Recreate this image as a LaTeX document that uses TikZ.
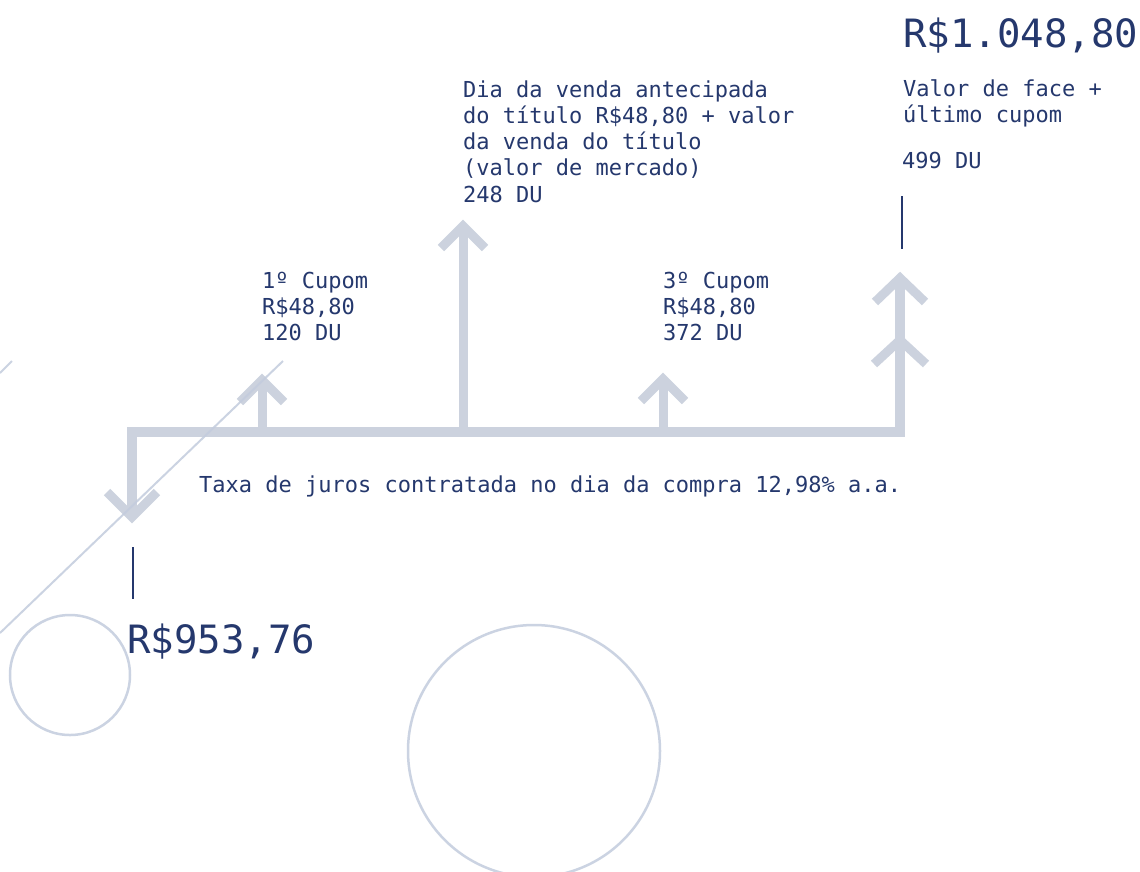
\documentclass[tikz,border=0pt]{standalone}
\usepackage{fontspec}
\setmainfont{DejaVu Sans Mono}
\definecolor{navy}{HTML}{25386D}
\definecolor{arr}{HTML}{CCD2DE}
\definecolor{deco}{HTML}{C3CCDD}
\begin{document}
\begin{tikzpicture}[x=1pt,y=-1pt,
  flow/.style={draw=arr, line width=10pt, line join=miter},
  stem/.style={draw=arr, line width=9pt},
  chev/.style={draw=arr, line width=9pt, line join=miter, miter limit=10},
  lbl/.style={text=navy, font=\fontsize{22}{26.3}\selectfont, anchor=base west, inner sep=0pt, align=left},
  big/.style={text=navy, font=\fontsize{39}{46}\selectfont, anchor=base west, inner sep=0pt},
  tick/.style={draw=navy, line width=2pt},
  decoline/.style={draw=deco, line width=2pt, opacity=0.85},
  ring/.style={draw=deco, line width=2.5pt, opacity=0.85}]
\useasboundingbox (0,0) rectangle (1140,871);
\fill[white] (0,0) rectangle (1140,871);

% decorative rings
\coordinate (ringA) at (70,675);
\coordinate (ringB) at (534,751);
\draw[ring] (ringA) circle (60pt);
\draw[ring] (ringB) circle (126pt);

% named points of the flow
\coordinate (startTip) at (132,517);
\coordinate (corner) at (132,432);
\coordinate (endBase) at (900,432);
\coordinate (endTip) at (900,278);
\coordinate (c1Base) at (262,432);
\coordinate (c1Tip) at (262,380);
\coordinate (c2Base) at (463,432);
\coordinate (c2Tip) at (463,226);
\coordinate (c3Base) at (663,432);
\coordinate (c3Tip) at (663,379);

% main timeline
\draw[flow] (startTip) -- (corner) -- (endBase) -- (endTip);
\draw[stem] (c1Base) -- (c1Tip);
\draw[stem] (c2Base) -- (c2Tip);
\draw[stem] (c3Base) -- (c3Tip);

% arrow heads (chevrons)
\draw[chev] ([shift={(-25,-25)}]startTip) -- (startTip) -- ([shift={(25,-25)}]startTip);
\draw[chev] ([shift={(-22,22)}]c1Tip) -- (c1Tip) -- ([shift={(22,22)}]c1Tip);
\draw[chev] ([shift={(-22,22)}]c2Tip) -- (c2Tip) -- ([shift={(22,22)}]c2Tip);
\draw[chev] ([shift={(-22,22)}]c3Tip) -- (c3Tip) -- ([shift={(22,22)}]c3Tip);
\draw[chev] ([shift={(-25,24)}]endTip) -- (endTip) -- ([shift={(25,24)}]endTip);
\coordinate (endTip2) at (900,340);
\draw[chev] ([shift={(-26,24)}]endTip2) -- (endTip2) -- ([shift={(26,24)}]endTip2);

% decorative diagonals
\coordinate (dA1) at (0,633);
\coordinate (dA2) at (283,361);
\coordinate (dB1) at (0,373);
\coordinate (dB2) at (12,361);
\draw[decoline] (dA1) -- (dA2);
\draw[decoline] (dB1) -- (dB2);

% dark ticks
\coordinate (t1a) at (133,547);
\coordinate (t1b) at (133,599);
\coordinate (t2a) at (902,196);
\coordinate (t2b) at (902,249);
\draw[tick] (t1a) -- (t1b);
\draw[tick] (t2a) -- (t2b);

% labels (base anchor = baseline of the last line)
\node[big] (finalValue) at (903,47) {R\$1.048,80};
\node[lbl] (faceText) at (903,122.3) {Valor de face +\\último cupom};
\node[lbl] (faceDU) at (902,168) {499 DU};
\node[lbl] (saleText) at (463,202.2) {Dia da venda antecipada\\do título R\$48,80 + valor\\da venda do título\\(valor de mercado)\\248 DU};
\node[lbl] (cup1) at (262,340.6) {1º Cupom\\R\$48,80\\120 DU};
\node[lbl] (cup3) at (663,340.6) {3º Cupom\\R\$48,80\\372 DU};
\node[lbl] (rate) at (199,492) {Taxa de juros contratada no dia da compra 12,98\% a.a.};
\node[big] (buyValue) at (127,653) {R\$953,76};
\end{tikzpicture}
\end{document}
